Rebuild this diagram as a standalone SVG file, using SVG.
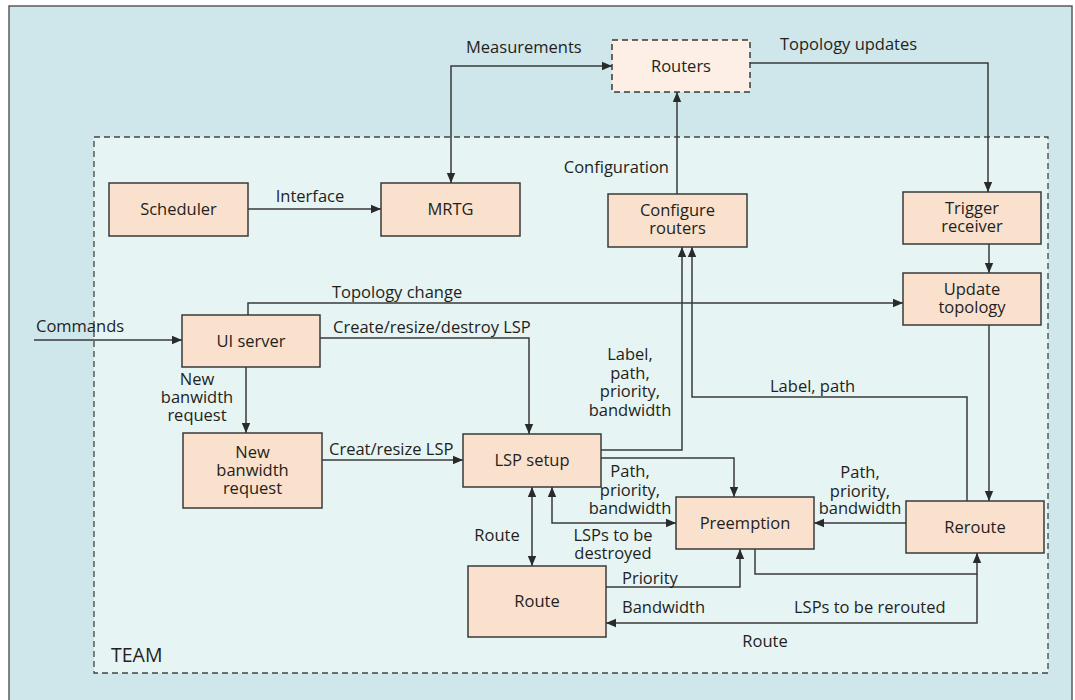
<svg xmlns="http://www.w3.org/2000/svg" width="1075" height="700" viewBox="0 0 1075 700">
<style>
.n rect{fill:#fae1cd;stroke:#3a3a3a;stroke-width:1.5}
#routers rect{fill:#fdefe5;stroke-dasharray:6 4}
text{font-family:"Open Sans","Liberation Sans",sans-serif;font-size:16.5px;fill:#231f20}
.n text{text-anchor:middle}
.c path{fill:none;stroke:#3a3a3a;stroke-width:1.5}
.m{text-anchor:middle}
</style>
<defs>
<marker id="a" viewBox="0 0 10 10" refX="10" refY="5" markerWidth="10" markerHeight="10" markerUnits="userSpaceOnUse" orient="auto-start-reverse">
<path d="M0,0.8 L10,5 L0,9.2 z" fill="#2a2a2a"/>
</marker>
</defs>
<rect x="9" y="6" width="1063" height="700" fill="#cfe7eb" stroke="#5a5b5e" stroke-width="1.5"/>
<rect id="team" x="94" y="137" width="954" height="536" fill="#e6f4f4" stroke="#444" stroke-width="1.3" stroke-dasharray="6 4"/>
<text x="111" y="662" style="font-size:19.5px">TEAM</text>

<g class="c">
<path d="M451,183 V66 H612" marker-start="url(#a)" marker-end="url(#a)"/>
<path d="M248,209 H381" marker-end="url(#a)"/>
<path d="M677,194 V92" marker-end="url(#a)"/>
<path d="M750,63 H988 V192" marker-end="url(#a)"/>
<path d="M989,244 V273" marker-end="url(#a)"/>
<path d="M248,315 V303 H903" marker-end="url(#a)"/>
<path d="M34,340 H182" marker-end="url(#a)"/>
<path d="M320,338 H529 V434" marker-end="url(#a)"/>
<path d="M246,367 V433" marker-end="url(#a)"/>
<path d="M322,460 H463" marker-end="url(#a)"/>
<path d="M601,450 H682 V247" marker-end="url(#a)"/>
<path d="M967,501 V397 H692 V247" marker-end="url(#a)"/>
<path d="M601,458 H734 V497" marker-end="url(#a)"/>
<path d="M552,487 V523 H676" marker-start="url(#a)" marker-end="url(#a)"/>
<path d="M532,487 V566" marker-start="url(#a)" marker-end="url(#a)"/>
<path d="M989,325 V501" marker-end="url(#a)"/>
<path d="M906,523 H814" marker-end="url(#a)"/>
<path d="M606,587 H740 V549" marker-end="url(#a)"/>
<path d="M755,549 V574 H977 V553" marker-end="url(#a)"/>
<path d="M977,574 V623 H606" marker-end="url(#a)"/>
</g>

<g id="labels">
<text x="466" y="53">Measurements</text>
<text x="780" y="50">Topology updates</text>
<text x="669" y="173" text-anchor="end">Configuration</text>
<text x="310" y="202" class="m">Interface</text>
<text x="332" y="298">Topology change</text>
<text x="36" y="332">Commands</text>
<text x="333" y="333">Create/resize/destroy LSP</text>
<text class="m"><tspan x="197" y="385">New</tspan><tspan x="197" y="403">banwidth</tspan><tspan x="197" y="421">request</tspan></text>
<text x="329" y="455">Creat/resize LSP</text>
<text class="m"><tspan x="630" y="360">Label,</tspan><tspan x="630" y="378.5">path,</tspan><tspan x="630" y="397">priority,</tspan><tspan x="630" y="415.5">bandwidth</tspan></text>
<text x="770" y="392">Label, path</text>
<text class="m"><tspan x="630" y="477">Path,</tspan><tspan x="630" y="496">priority,</tspan><tspan x="630" y="514">bandwidth</tspan></text>
<text class="m"><tspan x="613" y="541">LSPs to be</tspan><tspan x="613" y="559">destroyed</tspan></text>
<text x="497" y="541" class="m">Route</text>
<text class="m"><tspan x="860" y="478">Path,</tspan><tspan x="860" y="497">priority,</tspan><tspan x="860" y="514">bandwidth</tspan></text>
<text x="622" y="584">Priority</text>
<text x="622" y="613">Bandwidth</text>
<text x="794" y="613">LSPs to be rerouted</text>
<text x="765" y="647" class="m">Route</text>
</g>

<g id="scheduler" class="n"><rect x="109" y="183" width="139" height="53"/><text x="178.5" y="215">Scheduler</text></g>
<g id="mrtg" class="n"><rect x="381" y="183" width="139" height="53"/><text x="450.5" y="215">MRTG</text></g>
<g id="routers" class="n"><rect x="612" y="40" width="138" height="52"/><text x="681" y="72">Routers</text></g>
<g id="configure" class="n"><rect x="608" y="194" width="139" height="53"/><text><tspan x="677.5" y="216">Configure</tspan><tspan x="677.5" y="234">routers</tspan></text></g>
<g id="trigger" class="n"><rect x="903" y="192" width="138" height="52"/><text><tspan x="972" y="214">Trigger</tspan><tspan x="972" y="232">receiver</tspan></text></g>
<g id="update" class="n"><rect x="903" y="273" width="138" height="52"/><text><tspan x="972" y="295">Update</tspan><tspan x="972" y="313">topology</tspan></text></g>
<g id="ui" class="n"><rect x="182" y="315" width="138" height="52"/><text x="251" y="347">UI server</text></g>
<g id="newbw" class="n"><rect x="183" y="433" width="139" height="75"/><text><tspan x="252.5" y="458">New</tspan><tspan x="252.5" y="476">banwidth</tspan><tspan x="252.5" y="494">request</tspan></text></g>
<g id="lsp" class="n"><rect x="463" y="434" width="138" height="53"/><text x="532" y="466">LSP setup</text></g>
<g id="preemption" class="n"><rect x="676" y="497" width="138" height="52"/><text x="745" y="529">Preemption</text></g>
<g id="reroute" class="n"><rect x="906" y="501" width="138" height="52"/><text x="975" y="533">Reroute</text></g>
<g id="route" class="n"><rect x="468" y="566" width="138" height="71"/><text x="537" y="607">Route</text></g>
</svg>
